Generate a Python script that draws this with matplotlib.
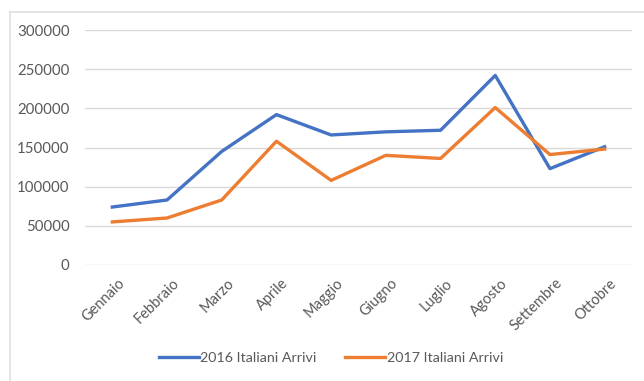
import matplotlib
matplotlib.use("Agg")
import matplotlib.pyplot as plt
import matplotlib.transforms as mtransforms
from matplotlib.lines import Line2D

months = ["Gennaio", "Febbraio", "Marzo", "Aprile", "Maggio",
          "Giugno", "Luglio", "Agosto", "Settembre", "Ottobre"]
arrivi_2016 = [74000, 83000, 145000, 192000, 166000,
               170000, 172000, 242000, 123000, 151000]
arrivi_2017 = [55000, 60000, 83000, 158000, 108000,
               140000, 136000, 201000, 141000, 148000]
y_ticks = [0, 50000, 100000, 150000, 200000, 250000, 300000]
series_names = ["2016 Italiani Arrivi", "2017 Italiani Arrivi"]

BLUE = "#4472C4"
ORANGE = "#ED7D31"
GRID = "#D9D9D9"
TEXT = "#595959"

plt.rcParams["font.family"] = ["Lato", "DejaVu Sans"]

fig = plt.figure(figsize=(6.44, 3.81), dpi=100)
fig.patch.set_facecolor("white")

# chart frame: top and left edges
fig.add_artist(Line2D([10 / 644, 1.0], [1 - 12 / 381, 1 - 12 / 381],
                      color="#E0E0E0", lw=1.2, transform=fig.transFigure))
fig.add_artist(Line2D([10 / 644, 10 / 644], [0, 1 - 12 / 381],
                      color="#E0E0E0", lw=1.2, transform=fig.transFigure))

ax = fig.add_axes([85 / 644, 1 - 265 / 381, (632 - 85) / 644, (265 - 30) / 381])
x = list(range(len(months)))
ax.plot(x, arrivi_2016, color=BLUE, lw=2.4, solid_joinstyle="round",
        label=series_names[0])
ax.plot(x, arrivi_2017, color=ORANGE, lw=2.4, solid_joinstyle="round",
        label=series_names[1])

ax.set_xlim(-0.5, len(months) - 0.5)
ax.set_ylim(0, 300000)
ax.set_yticks(y_ticks)
ax.set_yticklabels([str(v) for v in y_ticks], color=TEXT, fontsize=10.8)
ax.set_xticks(x)
ax.set_xticklabels(months, rotation=45, ha="right", rotation_mode="anchor",
                   color=TEXT, fontsize=10.5)
ax.tick_params(axis="both", length=0)
ax.tick_params(axis="y", pad=11)
ax.tick_params(axis="x", pad=8)
shift = mtransforms.ScaledTranslation(5 / 100, 0, fig.dpi_scale_trans)
for lbl in ax.get_xticklabels():
    lbl.set_transform(lbl.get_transform() + shift)
ax.grid(axis="y", color=GRID, lw=1)
ax.set_axisbelow(True)
for s in ax.spines.values():
    s.set_visible(False)

fig.legend(loc="center", bbox_to_anchor=(331 / 644, 1 - 358 / 381), ncol=2,
           frameon=False, fontsize=10.3, handlelength=2.8, handletextpad=0.1,
           columnspacing=2.0, labelcolor=TEXT)

fig.savefig("out.png", dpi=100, facecolor="white")
